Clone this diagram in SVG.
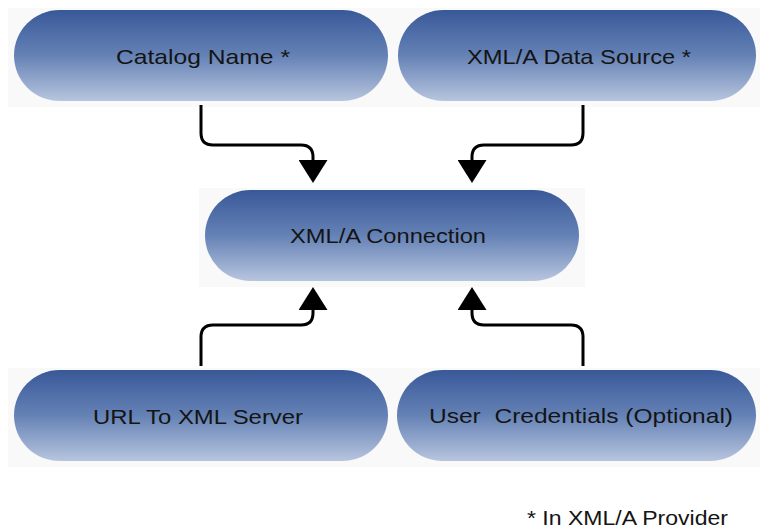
<svg xmlns="http://www.w3.org/2000/svg" width="760" height="529" viewBox="0 0 760 529">
<defs>
<linearGradient id="g" x1="0" y1="0" x2="0" y2="1">
<stop offset="0" stop-color="#395898"/>
<stop offset="0.5" stop-color="#6582b6"/>
<stop offset="1" stop-color="#b7c5de"/>
</linearGradient>
<marker id="arr" markerUnits="userSpaceOnUse" markerWidth="23" markerHeight="29" viewBox="0 0 23 29" refX="0" refY="14.5" orient="auto">
<path d="M0,0 L23,14.5 L0,29 z" fill="#000"/>
</marker>
<style>
.bg{fill:#f9f9f9}
.n{fill:url(#g)}
.t{font-family:"Liberation Sans",Arial,sans-serif;font-size:21px;fill:#141414;text-anchor:middle;white-space:pre}
.c{fill:none;stroke:#000;stroke-width:3}
</style>
</defs>
<rect width="760" height="529" fill="#fff"/>
<g id="catalog-name">
<rect class="bg" x="8" y="8" width="386" height="99"/>
<rect class="n" x="14" y="10" width="374" height="91" rx="45.5"/>
<text class="t" x="203" y="64" textLength="174" lengthAdjust="spacingAndGlyphs">Catalog Name *</text>
</g>
<g id="data-source">
<rect class="bg" x="392" y="8" width="368" height="99"/>
<rect class="n" x="398" y="10" width="358" height="91" rx="45.5"/>
<text class="t" x="579" y="64" textLength="224" lengthAdjust="spacingAndGlyphs">XML/A Data Source *</text>
</g>
<g id="connection">
<rect class="bg" x="199" y="188" width="386" height="99"/>
<rect class="n" x="205" y="190" width="374" height="91" rx="45.5"/>
<text class="t" x="388" y="243" textLength="196" lengthAdjust="spacingAndGlyphs">XML/A Connection</text>
</g>
<g id="url-server">
<rect class="bg" x="8" y="368" width="386" height="99"/>
<rect class="n" x="14" y="370" width="374" height="91" rx="45.5"/>
<text class="t" x="198" y="424" textLength="210" lengthAdjust="spacingAndGlyphs">URL To XML Server</text>
</g>
<g id="user-credentials">
<rect class="bg" x="391" y="368" width="369" height="99"/>
<rect class="n" x="397" y="370" width="359" height="91" rx="45.5"/>
<text class="t" x="581" y="423" textLength="304" lengthAdjust="spacingAndGlyphs">User  Credentials (Optional)</text>
</g>
<g id="connectors">
<path class="c" marker-end="url(#arr)" d="M201,105 V133 Q201,145 213,145 H301 Q313,145 313,157 V160"/>
<path class="c" marker-end="url(#arr)" d="M583,105 V133 Q583,145 571,145 H484 Q472,145 472,157 V160"/>
<path class="c" marker-end="url(#arr)" d="M201,366 V337 Q201,325 213,325 H301 Q313,325 313,313 V310"/>
<path class="c" marker-end="url(#arr)" d="M583,366 V337 Q583,325 571,325 H484 Q472,325 472,313 V310"/>
</g>
<text class="t" x="527" y="525" style="text-anchor:start" textLength="201" lengthAdjust="spacingAndGlyphs">* In XML/A Provider</text>
</svg>
